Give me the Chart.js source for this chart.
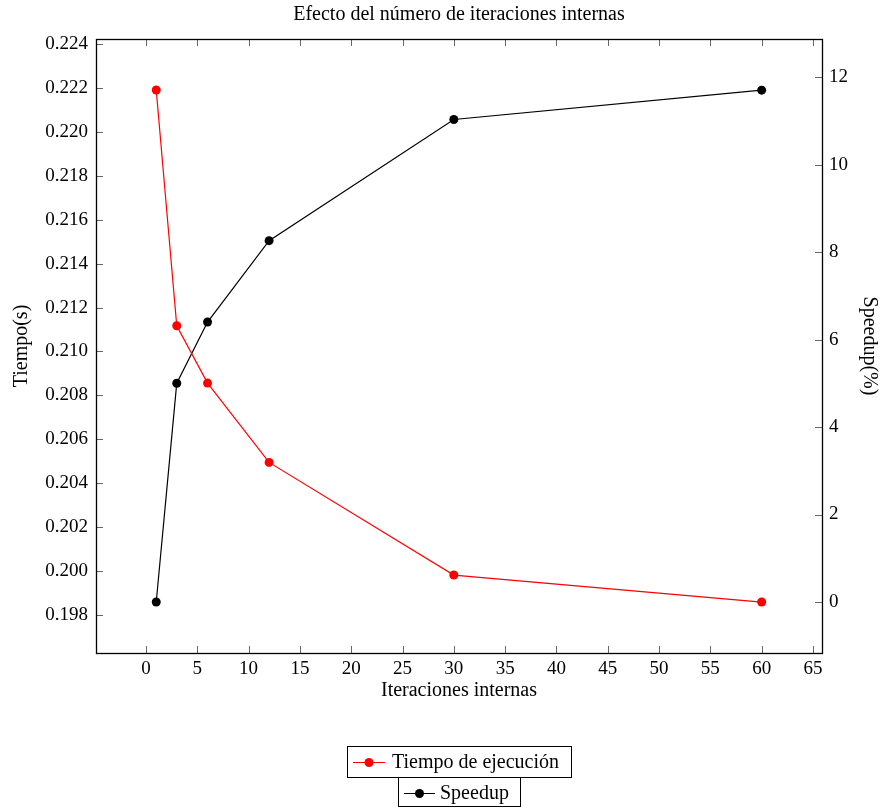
<!DOCTYPE html>
<html><head><meta charset="utf-8">
<script src="https://cdn.jsdelivr.net/npm/chart.js@4"></script>
<style>html,body{margin:0;padding:0;background:#fff}#c{display:block}</style>
</head><body>
<canvas id="c" width="882" height="807"></canvas>
<script>
const iteraciones = [1, 3, 6, 12, 30, 60];
const tiempo = [0.22191, 0.21117, 0.20856, 0.20495, 0.19982, 0.19859];
const speedup = [0, 5.0, 6.4, 8.26, 11.03, 11.70];
const xTicks = [0, 5, 10, 15, 20, 25, 30, 35, 40, 45, 50, 55, 60, 65];
const yLeftTicks = [0.198, 0.200, 0.202, 0.204, 0.206, 0.208, 0.210, 0.212, 0.214, 0.216, 0.218, 0.220, 0.222, 0.224];
const yRightTicks = [0, 2, 4, 6, 8, 10, 12];
const titleText = 'Efecto del número de iteraciones internas';
const seriesNames = ['Tiempo de ejecución', 'Speedup'];

const FAM = '"Liberation Serif", "DejaVu Serif", serif';
const F = {family: FAM, size: 19, weight: 'normal'};
const FT = {family: FAM, size: 20, weight: 'normal'};

const decor = {
  id: 'decor',
  afterDraw(chart) {
    const c = chart.ctx, a = chart.chartArea;
    const sx = chart.scales.x, yl = chart.scales.y, yr = chart.scales.y1;
    c.save();
    c.strokeStyle = '#666'; c.lineWidth = 1;
    const L = 7;
    c.beginPath();
    xTicks.forEach(v => {
      const p = Math.round(sx.getPixelForValue(v)) + 0.5;
      c.moveTo(p, a.bottom); c.lineTo(p, a.bottom - L);
      c.moveTo(p, a.top); c.lineTo(p, a.top + L);
    });
    yLeftTicks.forEach(v => {
      const p = Math.round(yl.getPixelForValue(v)) + 0.5;
      c.moveTo(a.left, p); c.lineTo(a.left + L, p);
    });
    yRightTicks.forEach(v => {
      const p = Math.round(yr.getPixelForValue(v)) + 0.5;
      c.moveTo(a.right, p); c.lineTo(a.right - L, p);
    });
    c.stroke();
    c.strokeStyle = '#000'; c.lineWidth = 1.3;
    c.strokeRect(Math.round(a.left) + 0.5, Math.round(a.top) + 0.5, Math.round(a.right - a.left), Math.round(a.bottom - a.top));
    c.fillStyle = '#000';
    c.font = '20px ' + FAM;
    c.textAlign = 'center'; c.textBaseline = 'middle';
    c.fillText(titleText, (a.left + a.right) / 2, 15);
    c.lineWidth = 1;
    c.strokeStyle = '#000';
    c.strokeRect(347.5, 746.5, 224, 31);
    c.strokeRect(398.5, 777.5, 122, 29);
    c.font = '20px ' + FAM;
    c.textAlign = 'left';
    const items = [
      {col: '#ff0000', x0: 353, x1: 385, tx: 392, y: 762, name: seriesNames[0]},
      {col: '#000000', x0: 404, x1: 435, tx: 440, y: 793, name: seriesNames[1]}
    ];
    items.forEach(it => {
      c.strokeStyle = it.col; c.fillStyle = it.col;
      c.beginPath(); c.moveTo(it.x0, it.y + 0.5); c.lineTo(it.x1, it.y + 0.5); c.stroke();
      c.beginPath(); c.arc((it.x0 + it.x1) / 2, it.y + 0.5, 4.5, 0, Math.PI * 2); c.fill();
      c.fillStyle = '#000';
      c.fillText(it.name, it.tx, it.y + 1);
    });
    c.restore();
  }
};

new Chart(document.getElementById('c').getContext('2d'), {
  type: 'line',
  data: {
    datasets: [
      {label: seriesNames[0], data: iteraciones.map((x, i) => ({x, y: tiempo[i]})), yAxisID: 'y',
       borderColor: '#ff0000', backgroundColor: '#ff0000', borderWidth: 1.2, pointRadius: 4.5, pointBorderWidth: 0, tension: 0},
      {label: seriesNames[1], data: iteraciones.map((x, i) => ({x, y: speedup[i]})), yAxisID: 'y1',
       borderColor: '#000000', backgroundColor: '#000000', borderWidth: 1.2, pointRadius: 4.5, pointBorderWidth: 0, tension: 0}
    ]
  },
  options: {
    responsive: false, animation: false, devicePixelRatio: 1,
    layout: {padding: {left: 0, right: 0, top: 39, bottom: 104}},
    plugins: {legend: {display: false}, title: {display: false}, tooltip: {enabled: false}},
    scales: {
      x: {type: 'linear', min: -4.87, max: 65.88,
          afterBuildTicks: s => { s.ticks = xTicks.map(v => ({value: v})); },
          afterFit: s => { s.height = 50; },
          grid: {display: false, drawTicks: false}, border: {display: false},
          ticks: {padding: 5, color: '#000', font: F, maxRotation: 0, autoSkip: false, callback: v => String(v)},
          title: {display: true, text: 'Iteraciones internas', color: '#000', font: FT, padding: {top: 0, bottom: 0}}},
      y: {type: 'linear', position: 'left', min: 0.19627, max: 0.22423,
          afterBuildTicks: s => { s.ticks = yLeftTicks.map(v => ({value: v})); },
          afterFit: s => { s.width = 96; },
          grid: {display: false, drawTicks: false}, border: {display: false},
          ticks: {padding: 8, color: '#000', font: F, autoSkip: false, callback: v => Number(v).toFixed(3)},
          title: {display: true, text: 'Tiempo(s)', color: '#000', font: FT, padding: {top: 10, bottom: 0}}},
      y1: {type: 'linear', position: 'right', min: -1.166, max: 12.87,
          afterBuildTicks: s => { s.ticks = yRightTicks.map(v => ({value: v})); },
          afterFit: s => { s.width = 60; },
          grid: {display: false, drawTicks: false}, border: {display: false},
          ticks: {padding: 7, color: '#000', font: F, autoSkip: false, callback: v => String(v)},
          title: {display: true, text: 'Speedup(%)', color: '#000', font: FT, padding: {top: 1, bottom: 0}}}
    }
  },
  plugins: [decor]
});
</script>
</body></html>
